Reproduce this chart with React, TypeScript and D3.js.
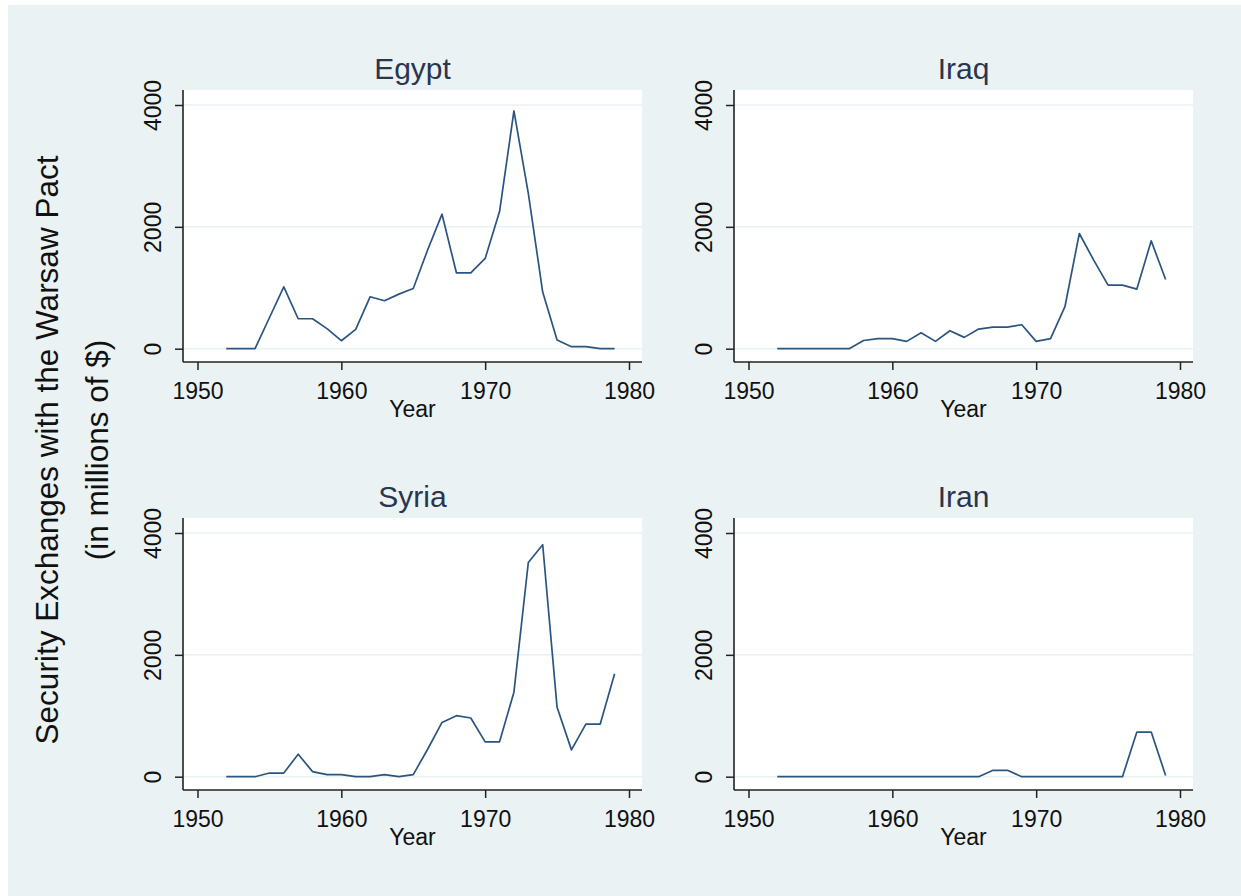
import * as d3 from 'd3'
import { useEffect, useRef } from 'react'

const years = [
  1952, 1953, 1954, 1955, 1956, 1957, 1958, 1959, 1960, 1961, 1962, 1963, 1964, 1965,
  1966, 1967, 1968, 1969, 1970, 1971, 1972, 1973, 1974, 1975, 1976, 1977, 1978, 1979
]

const egypt = [
  0, 0, 0, 508, 1016, 492, 492, 330, 131, 317, 852, 787, 896, 989,
  1620, 2208, 1246, 1246, 1481, 2250, 3902, 2550, 930, 142, 33, 33, 0, 0
]
const iraq = [
  0, 0, 0, 0, 0, 0, 135, 164, 164, 120, 262, 120, 295, 186,
  322, 355, 355, 393, 120, 164, 689, 1891, 1454, 1044, 1044, 978, 1770, 1137
]
const syria = [
  0, 0, 0, 60, 60, 369, 83, 33, 33, 0, 0, 33, 0, 33,
  451, 891, 1001, 963, 572, 572, 1387, 3516, 3807, 1139, 440, 864, 864, 1689
]
const iran = [
  0, 0, 0, 0, 0, 0, 0, 0, 0, 0, 0, 0, 0, 0,
  0, 105, 105, 0, 0, 0, 0, 0, 0, 0, 0, 732, 732, 20
]

const countries = ['Egypt', 'Iraq', 'Syria', 'Iran']
const series = [egypt, iraq, syria, iran]
const xTicks = [1950, 1960, 1970, 1980]
const yTicks = [0, 2000, 4000]

const App = () => {
  const ref = useRef<SVGSVGElement>(null)

  useEffect(() => {
    if (!ref.current) return
    const svg = d3.select(ref.current)
    svg.selectAll('*').remove()

    const font = '"Liberation Sans", Arial, sans-serif'
    const bg = '#eaf2f3'
    const lineColor = '#2a5580'

    svg.append('rect')
      .attr('x', 8).attr('y', 5)
      .attr('width', 1233).attr('height', 891)
      .attr('fill', bg)

    // plot regions: [left, top]
    const cols = [183, 734]
    const rows = [90, 518]
    const pw = 459
    const ph = 272

    countries.forEach((name, i) => {
      const x0 = cols[i % 2]
      const y0 = rows[Math.floor(i / 2)]

      const x = d3.scaleLinear().domain([1950, 1980]).range([x0 + 14.5, x0 + 446])
      const y = d3.scaleLinear().domain([0, 4000]).range([y0 + 258.7, y0 + 15])

      const g = svg.append('g')

      g.append('rect')
        .attr('x', x0).attr('y', y0)
        .attr('width', pw).attr('height', ph)
        .attr('fill', '#fff')

      // gridlines
      g.selectAll('.grid')
        .data(yTicks)
        .enter()
        .append('line')
        .attr('x1', x0).attr('x2', x0 + pw)
        .attr('y1', d => y(d)).attr('y2', d => y(d))
        .attr('stroke', bg)
        .attr('stroke-width', 1.5)

      const line = d3.line<number>()
        .x((_, j) => x(years[j]))
        .y(d => y(d))

      g.append('path')
        .datum(series[i])
        .attr('fill', 'none')
        .attr('stroke', lineColor)
        .attr('stroke-width', 1.7)
        .attr('stroke-linejoin', 'round')
        .attr('d', line)

      // y axis, labels rotated
      const ya = g.append('g')
        .attr('transform', `translate(${x0},0)`)
        .call(d3.axisLeft(y).tickValues(yTicks).tickFormat(d3.format('d')).tickSize(8).tickSizeOuter(0))
      ya.select('.domain').attr('d', `M0,${y0}V${y0 + ph}`)
      ya.selectAll('line').attr('stroke', '#222').attr('stroke-width', 1.5)
      ya.select('.domain').attr('stroke', '#222').attr('stroke-width', 1.6)
      ya.selectAll('text')
        .attr('x', 0).attr('y', 0).attr('dy', 0)
        .attr('transform', 'translate(-22,0) rotate(-90)')
        .attr('text-anchor', 'middle')
        .style('font-family', font)
        .style('font-size', '23px')
        .style('fill', '#111')

      // x axis
      const xa = g.append('g')
        .attr('transform', `translate(0,${y0 + ph})`)
        .call(d3.axisBottom(x).tickValues(xTicks).tickFormat(d3.format('d')).tickSize(8).tickPadding(13).tickSizeOuter(0))
      xa.select('.domain').attr('d', `M${x0},0H${x0 + pw}`)
      xa.selectAll('line').attr('stroke', '#222').attr('stroke-width', 1.5)
      xa.select('.domain').attr('stroke', '#222').attr('stroke-width', 1.6)
      xa.selectAll('text')
        .style('font-family', font)
        .style('font-size', '23px')
        .style('fill', '#111')

      g.append('text')
        .attr('x', x0 + pw / 2)
        .attr('y', y0 + ph + 55)
        .attr('text-anchor', 'middle')
        .style('font-family', font)
        .style('font-size', '23px')
        .style('fill', '#111')
        .text('Year')

      g.append('text')
        .attr('x', x0 + pw / 2)
        .attr('y', y0 - 11)
        .attr('text-anchor', 'middle')
        .style('font-family', font)
        .style('font-size', '30px')
        .style('fill', '#2a3550')
        .text(name)
    })

    const yt = svg.append('text')
      .attr('transform', 'translate(58,450) rotate(-90)')
      .attr('text-anchor', 'middle')
      .style('font-family', font)
      .style('font-size', '31.5px')
      .style('fill', '#111')
    yt.append('tspan').attr('x', 0).attr('y', 0).text('Security Exchanges with the Warsaw Pact')
    yt.append('tspan').attr('x', 0).attr('y', 50).text('(in millions of $)')
  }, [])

  return (
    <div style={{ position: 'absolute', left: 0, top: 0 }}>
      <svg ref={ref} width={1241} height={896} style={{ display: 'block', background: '#fff' }} />
    </div>
  )
}

export default App
